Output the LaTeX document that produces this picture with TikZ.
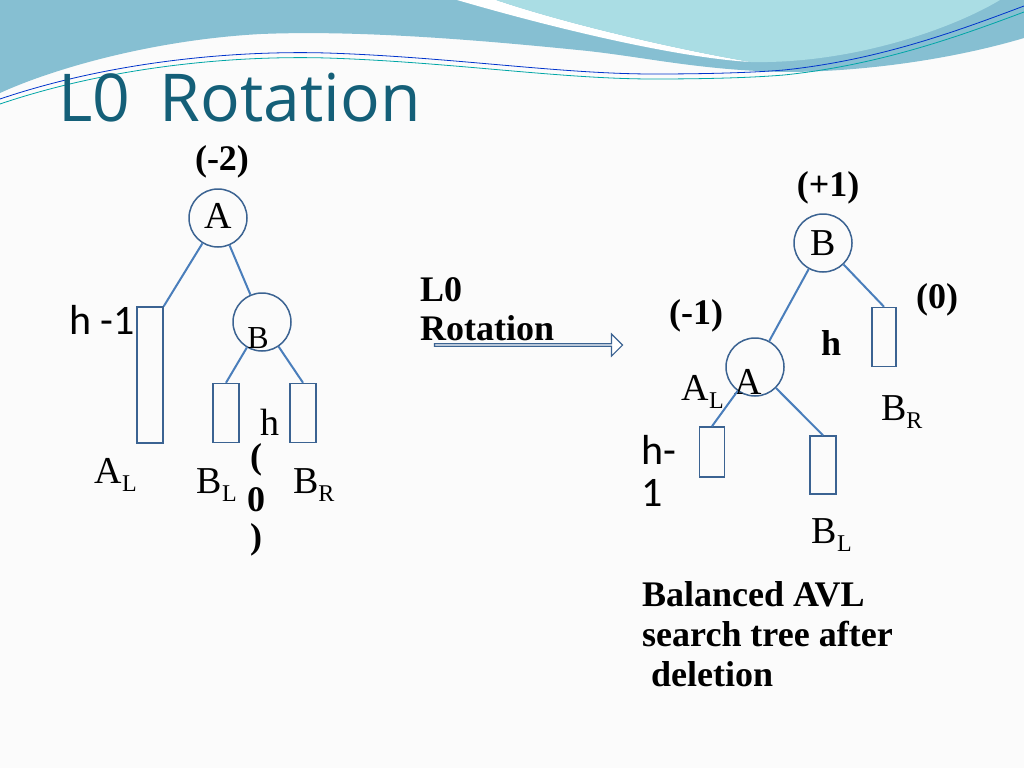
\documentclass[tikz,border=0pt]{standalone}
\usepackage{fontspec}
\setmainfont{Liberation Serif}
\newfontfamily\titlefont{Open Sans}
\newfontfamily\calfont{Carlito}
\usetikzlibrary{shapes.arrows}
\definecolor{teal1}{HTML}{86BFD2}
\definecolor{aqua1}{HTML}{AADDE4}
\definecolor{ttl}{HTML}{145F78}
\definecolor{edge}{HTML}{4A7EBB}
\definecolor{nodeb}{HTML}{3B6392}
\begin{document}
\begin{tikzpicture}[x=1pt,y=-1pt,
  circ/.style={circle,draw=nodeb,line width=1.5pt,minimum size=58pt,inner sep=0pt},
  sub/.style={rectangle,draw=nodeb,line width=1.5pt,inner sep=0pt},
  ed/.style={draw=edge,line width=2pt},
  lbl/.style={font=\fontsize{38}{38}\selectfont,inner sep=0pt},
  bl/.style={font=\bfseries\fontsize{36}{36}\selectfont,inner sep=0pt}]
\useasboundingbox (0,0) rectangle (1024,768);
\fill[white!97!gray] (0,0) rectangle (1024,768);
% waves
\fill[teal1] (0,0) -- (1024,0) -- (1024,38) .. controls (950,60) and (860,72) .. (784,72) .. controls (700,70) and (650,58) .. (588,51) .. controls (480,40) and (360,30) .. (261,34) .. controls (150,40) and (50,70) .. (0,93) -- cycle;
\fill[white] (457,0) .. controls (560,30) and (680,58) .. (751,62) .. controls (680,50) and (570,25) .. (496,0) -- cycle;
\fill[aqua1] (496,0) .. controls (570,25) and (680,50) .. (751,62) .. controls (850,64) and (950,30) .. (1000,0) -- cycle;
\draw[blue!60!teal,line width=0.8pt] (0,99) .. controls (100,65) and (220,50) .. (327,53) .. controls (450,57) and (560,74) .. (653,74) .. controls (720,74) and (760,72) .. (784,70) .. controls (880,60) and (960,30) .. (1024,6);
\draw[teal!70!cyan,line width=0.8pt] (0,104) .. controls (100,70) and (220,55) .. (327,58) .. controls (450,62) and (560,79) .. (653,79) .. controls (720,79) and (760,77) .. (784,75) .. controls (880,65) and (960,36) .. (1024,12);
\node[anchor=west,text=ttl,font=\titlefont\fontsize{66}{66}\selectfont,inner sep=0pt] (title) at (58,98) {L0\hspace{0.45em}Rotation};
% left tree
\node[circ] (A) at (218,218) {};
\node[lbl] (At) at (218,216) {A};
\node[bl] (m2) at (222,162) {(-2)};
\node[circ] (B) at (262,322) {};
\node[font=\fontsize{32}{32}\selectfont,inner sep=0pt] (Bt) at (258,338) {B};
\node[sub,minimum width=26pt,minimum height=136pt] (AL) at (150,375) {};
\node[sub,minimum width=26pt,minimum height=59pt] (BL) at (226,413) {};
\node[sub,minimum width=26pt,minimum height=59pt] (BR) at (303,413) {};
\draw[ed] (A) -- (AL.north east);
\draw[ed] (A) -- (B);
\draw[ed] (B) -- (BL.north);
\draw[ed] (B) -- (BR.north);
\node[font=\calfont\fontsize{42}{42}\selectfont,inner sep=0pt] (h1) at (102,320) {h -1};
\node[lbl] (h) at (270,422) {h};
\node[bl] (p1) at (256,460) {(};
\node[bl] (p2) at (256,500) {0};
\node[bl] (p3) at (256,540) {)};
\node[lbl] (ALt) at (116,475) {A\textsubscript{\fontsize{24}{24}\selectfont L}};
\node[lbl] (BLt) at (217,485) {B\textsubscript{\fontsize{24}{24}\selectfont L}};
\node[lbl] (BRt) at (314,485) {B\textsubscript{\fontsize{24}{24}\selectfont R}};
% arrow
\node[single arrow,draw=nodeb,line width=1.2pt,fill=white,minimum height=188pt,minimum width=22pt,single arrow head extend=5pt,inner sep=0pt] (arr) at (528,345) {};
\node[bl,anchor=west] (r1) at (420,290) {L0};
\node[bl,anchor=west] (r2) at (420,328) {Rotation};
% right tree
\node[circ] (B2) at (823,243) {};
\node[lbl] (B2t) at (823,243) {B};
\node[bl] (p1b) at (828,188) {(+1)};
\node[circ] (A2) at (755,367) {};
\node[lbl] (A2t) at (748,382) {A};
\node[bl] (m1) at (696,316) {(-1)};
\node[bl] (z0) at (937,300) {(0)};
\node[bl] (hb) at (831,343) {h};
\node[sub,minimum width=24pt,minimum height=59pt] (BR2) at (884,337) {};
\node[sub,minimum width=25pt,minimum height=50pt] (AL2) at (712,452) {};
\node[sub,minimum width=26pt,minimum height=58pt] (BL2) at (823,465) {};
\draw[ed] (B2) -- (BR2.north);
\draw[ed] (B2) -- (A2);
\draw[ed] (A2) -- (AL2.north);
\draw[ed] (A2) -- (BL2.north);
\node[lbl] (AL2t) at (703,392) {A\textsubscript{\fontsize{24}{24}\selectfont L}};
\node[lbl] (BR2t) at (902,412) {B\textsubscript{\fontsize{24}{24}\selectfont R}};
\node[lbl] (BL2t) at (832,535) {B\textsubscript{\fontsize{24}{24}\selectfont L}};
\node[font=\calfont\fontsize{42}{42}\selectfont,inner sep=0pt,anchor=west] (hm) at (641,450) {h-};
\node[font=\calfont\fontsize{42}{42}\selectfont,inner sep=0pt,anchor=west] (hm1) at (641,493) {1};
\node[bl,anchor=west] (c1) at (642,594) {Balanced AVL};
\node[bl,anchor=west] (c2) at (642,634) {search tree after};
\node[bl,anchor=west] (c3) at (642,674) {\ deletion};
\end{tikzpicture}
\end{document}
